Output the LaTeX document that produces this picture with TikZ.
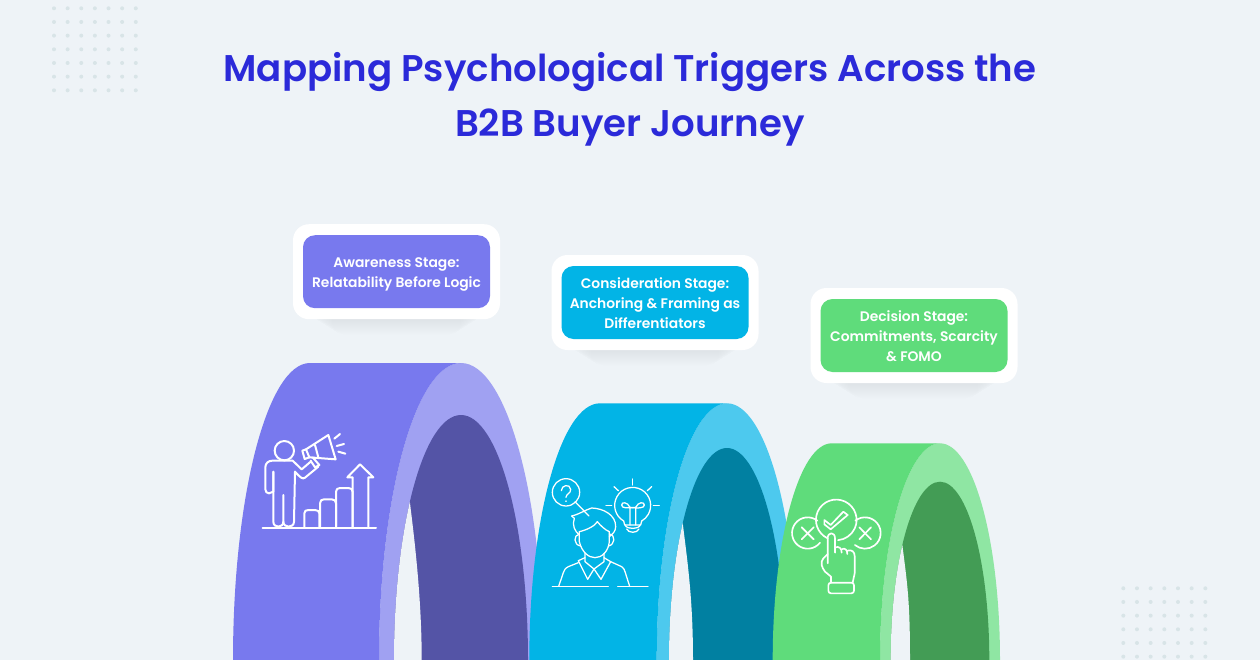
\documentclass[tikz,border=0pt]{standalone}
\usepackage{fontspec}
\setmainfont{Poppins}[BoldFont={Poppins SemiBold}]
\usepackage{tikz}
\usetikzlibrary{positioning,calc}
\definecolor{bgblue}{HTML}{EEF3F7}
\definecolor{dotgrey}{HTML}{D8E4E7}
\definecolor{titleblue}{HTML}{2B2AD9}
\definecolor{archa}{HTML}{7879EE}
\definecolor{ringa}{HTML}{A0A1F2}
\definecolor{holea}{HTML}{5454A6}
\definecolor{archb}{HTML}{02B4E6}
\definecolor{ringb}{HTML}{4DC9EE}
\definecolor{holeb}{HTML}{0180A1}
\definecolor{archc}{HTML}{5FDC7B}
\definecolor{ringc}{HTML}{8FE6A3}
\definecolor{holec}{HTML}{439C55}
\newcommand{\firstline}{\rule{0pt}{12pt}}
\newcommand{\lastline}{\rule[-3pt]{0pt}{3pt}}
\tikzset{
  cardbox/.style={fill=white,rounded corners=12pt,minimum width=155.25pt,minimum height=71.25pt},
  labelbox/.style={rounded corners=9pt,minimum width=140.25pt,minimum height=54.75pt,text=white,align=center,
    inner sep=0pt,font=\fontsize{10.4pt}{15pt}\selectfont\bfseries},
  iconline/.style={draw=white,line cap=round,line join=round}
}
\begin{document}
\begin{tikzpicture}[x=0.75pt,y=-0.75pt]
\fill[bgblue] (0,0) rectangle (1260,660);
\useasboundingbox (0,0) rectangle (1260,660);

% dots
\foreach \i in {0,...,6} \foreach \j in {0,...,6}
  \fill[dotgrey] (54+13.63*\i,8.3+13.67*\j) circle[radius=2];
\foreach \i in {0,...,6} \foreach \j in {0,...,5}
  \fill[dotgrey] (1123.3+13.67*\i,588.3+13.67*\j) circle[radius=2];

\node[text=titleblue,align=center,font=\fontsize{27.85pt}{41.25pt}\selectfont\bfseries] (title) at (630,99.5)
  {Mapping Psychological Triggers Across the\\B2B Buyer Journey};

% arches
\foreach \n/\fx/\sx/\ax/\ay/\ra/\ha/\hy/\bx in {a/233/310/461/363/82/67/415/421.7,b/529.3/600/727/403.3/70.3/58/448/693,c/772.7/831.7/940/443.3/60/49.3/481.7/910}{
  \fill[ring\n] (\ax-\ra,660) arc[start angle=180,end angle=360,x radius=\ra,y radius=660-\ay] -- cycle;
  \fill[hole\n] (\ax-\ha,660) arc[start angle=180,end angle=360,x radius=\ha,y radius=660-\hy] -- cycle;
  \fill[bgblue] (\ax-\ha,660) arc[start angle=180,end angle=220.2,x radius=\ha,y radius=660-\hy]
    .. controls +(5,40) and (\bx,600) .. (\bx,660) -- cycle;
  \fill[arch\n] (\fx,660) arc[start angle=180,end angle=270,x radius=\sx-\fx,y radius=660-\ay] -- (\ax,\ay)
    arc[start angle=270,end angle=180,x radius=\ra,y radius=660-\ay] -- cycle;
}

% card shadows
\foreach \cx/\cy in {396.5/271.7,655/302.5,914/335.5} \foreach \i in {1,...,16}
  \fill[black,opacity=.005,rounded corners=9pt] (\cx-90+1.6*\i,\cy+26) rectangle (\cx+90-1.6*\i,\cy+47+\i);

\node[cardbox] (awarecard) at (396.5,271.7) {};
\node[cardbox] (considercard) at (655,302.5) {};
\node[cardbox] (decidecard) at (914,335.5) {};
\node[labelbox,fill=archa] (awarelabel) at (awarecard.center) {\firstline Awareness Stage:\\Relatability Before Logic\lastline};
\node[labelbox,fill=archb] (considerlabel) at (considercard.center) {\firstline Consideration Stage:\\Anchoring \& Framing as\\Differentiators\lastline};
\node[labelbox,fill=archc] (decidelabel) at (decidecard.center) {\firstline Decision Stage:\\Commitments, Scarcity\\\& FOMO\lastline};

% megaphone man
\begin{scope}[shift={(220,350)},x=0.25pt,y=-0.25pt,iconline,line width=1.5pt]
\draw (128,534) -- (468,534);
\draw (193,302) circle[radius=29];
\draw (160,365) -- (160,425) -- (147,430) .. controls (140,430) and (136,425) .. (136,418) -- (136,352)
  .. controls (136,340) and (145,332) .. (157,332) -- (218,332) -- (245,358) -- (272,335);
\draw (295,350) -- (255,383) .. controls (248,388) and (243,385) .. (225,365);
\draw (160,365) -- (160,515) .. controls (160,535) and (190,535) .. (190,515) -- (190,435);
\draw (190,515) .. controls (190,535) and (222,535) .. (222,515) -- (225,365);
\draw (258,298) -- (325,255) -- (347,328) -- (268,322);
\draw (258,298) -- (247,302) -- (254,327) -- (268,322) -- cycle;
\draw (285,285) -- (295,322);
\draw (278,322) -- (298,345) -- (285,352) -- (272,332);
\draw (343,266) -- (360,252);
\draw (350,288) -- (372,282);
\draw (355,305) -- (376,311);
\draw (253,530) -- (253,490) .. controls (253,483) and (258,480) .. (265,480) -- (285,480) .. controls (293,480) and (298,484) .. (298,490) -- (298,530);
\draw (300,530) -- (300,460) .. controls (300,452) and (305,448) .. (312,448) -- (335,448) .. controls (343,448) and (348,452) .. (348,460) -- (348,530);
\draw (348,530) -- (348,425) .. controls (348,418) and (353,414) .. (360,414) -- (385,414) .. controls (392,414) and (398,418) .. (398,425) -- (398,530);
\draw (398,530) -- (398,382) -- (382,382) -- (420,343) -- (460,382) -- (445,382) -- (445,530);
\end{scope}

% thinking man
\begin{scope}[shift={(520,390)},x=0.25pt,y=-0.25pt,iconline,line width=0.95pt]
\draw (97,589) -- (265,589);
\draw (293,589) -- (384,589);
\draw (138,307) circle[radius=41];
\draw (165,335) -- (207,378);
\draw (124,302) .. controls (124,285) and (150,280) .. (152,298) .. controls (153,310) and (138,312) .. (138,322);
\draw (138,333) -- (138,334);
\draw (311,393) arc[start angle=120,end angle=420,radius=54];
\draw (311,393) -- (314,405) -- (362,405) -- (365,393);
\draw (316,405) .. controls (316,418) and (360,418) .. (360,405);
\draw (320,417) .. controls (325,430) and (352,430) .. (357,417);
\draw (330,405) -- (330,352) .. controls (322,335) and (305,335) .. (305,345) .. controls (305,355) and (322,355) .. (347,352);
\draw (347,405) -- (347,352) .. controls (355,335) and (373,335) .. (373,345) .. controls (373,355) and (355,355) .. (330,352);
\draw (338,267) -- (338,285);
\draw (282,290) -- (295,302);
\draw (395,290) -- (382,302);
\draw (258,347) -- (275,347);
\draw (400,347) -- (418,347);
\draw (155,378) .. controls (180,372) and (195,360) .. (215,354) .. controls (250,355) and (288,375) .. (287,410) .. controls (286,425) and (280,430) .. (268,440);
\draw (155,378) -- (163,385) .. controls (155,405) and (165,425) .. (178,435);
\draw (178,425) .. controls (200,420) and (225,408) .. (232,395) .. controls (240,405) and (255,420) .. (268,425);
\draw (178,425) -- (178,455) .. controls (185,485) and (205,503) .. (225,503) .. controls (245,503) and (265,485) .. (268,455) -- (268,425);
\draw (178,432) .. controls (160,435) and (160,465) .. (182,468);
\draw (268,432) .. controls (288,435) and (285,465) .. (265,468);
\draw (195,490) -- (195,515) -- (222,537) -- (252,515) -- (252,490);
\draw (195,503) -- (175,512) -- (203,568) -- (222,537) -- (243,568) -- (272,515) -- (252,503);
\draw (175,518) -- (145,530) .. controls (135,535) and (133,540) .. (130,548) -- (116,589);
\draw (272,515) -- (305,530) .. controls (312,535) and (314,540) .. (316,548) -- (329,589);
\end{scope}

% choice hand
\begin{scope}[shift={(760,430)},x=0.25pt,y=-0.25pt,iconline,line width=1.25pt]
\draw (172,272) arc[start angle=308,end angle=38,radius=47];
\draw (286,272) arc[start angle=232,end angle=490,radius=47];
\draw (203,325) arc[start angle=115,end angle=445,radius=61];
\draw (125,292) -- (161,328);
\draw (161,292) -- (125,328);
\draw (298,292) -- (333,328);
\draw (333,292) -- (298,328);
\draw (193,270) -- (212,285) -- (250,245) -- (263,255) -- (212,298) -- (193,283) -- cycle;
\draw (203,400) -- (203,325) .. controls (203,305) and (225,305) .. (225,325) -- (225,368);
\draw (225,352) .. controls (238,348) and (245,355) .. (245,368);
\draw (245,358) .. controls (255,352) and (262,360) .. (262,372);
\draw (262,362) .. controls (275,358) and (284,365) .. (284,378) -- (284,430) -- (278,458);
\draw (203,372) -- (190,385) .. controls (180,398) and (185,412) .. (195,425) -- (213,440) -- (213,458);
\draw[rounded corners=2pt] (205,458) rectangle (282,490);
\end{scope}
\end{tikzpicture}
\end{document}
